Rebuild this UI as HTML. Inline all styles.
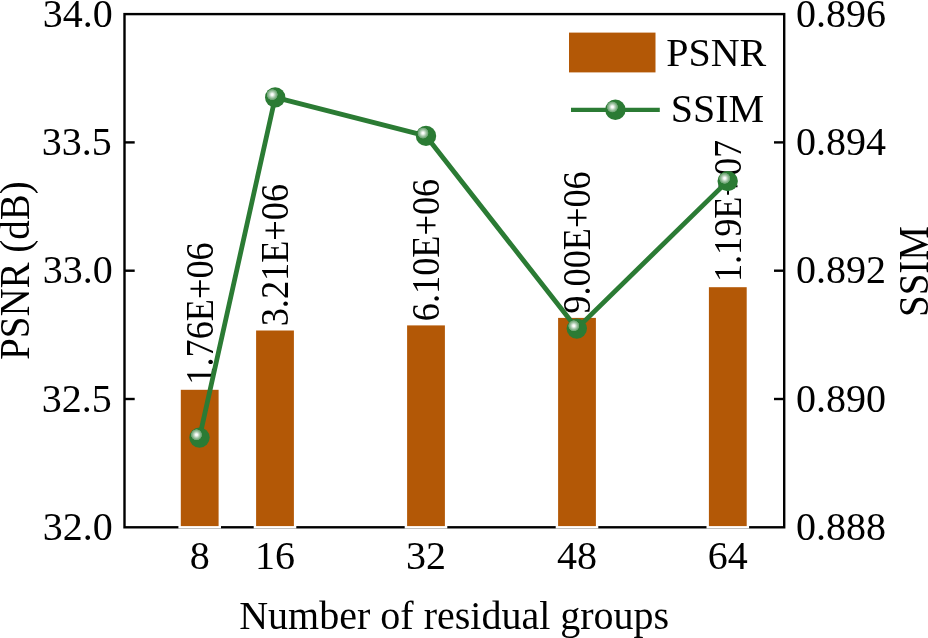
<!DOCTYPE html>
<html lang="en"><head><meta charset="utf-8"><title>PSNR and SSIM vs number of residual groups</title>
<style>html,body{margin:0;padding:0;background:#fff;}body{width:928px;height:638px;overflow:hidden;font-family:"Liberation Serif","Times New Roman",serif;}svg{display:block;}</style>
</head><body>
<svg width="928" height="638" viewBox="0 0 928 638" font-family="'Liberation Serif', 'Times New Roman', serif" font-size="40.0" fill="#000">
<defs><radialGradient id="hl" cx="0.5" cy="0.5" r="0.5"><stop offset="0" stop-color="#fff" stop-opacity="1"/><stop offset="0.18" stop-color="#fff" stop-opacity="0.97"/><stop offset="0.45" stop-color="#fff" stop-opacity="0.68"/><stop offset="0.7" stop-color="#fff" stop-opacity="0.45"/><stop offset="0.93" stop-color="#fff" stop-opacity="0.28"/><stop offset="1" stop-color="#fff" stop-opacity="0"/></radialGradient></defs>
<rect width="928" height="638" fill="#fff"/>
<rect x="124.5" y="14.1" width="659.7" height="513.1999999999999" fill="none" stroke="#000" stroke-width="2.4"/>
<line x1="124.5" y1="142.40" x2="134.7" y2="142.40" stroke="#000" stroke-width="2.4"/>
<line x1="784.2" y1="142.40" x2="774.0" y2="142.40" stroke="#000" stroke-width="2.4"/>
<line x1="124.5" y1="270.70" x2="134.7" y2="270.70" stroke="#000" stroke-width="2.4"/>
<line x1="784.2" y1="270.70" x2="774.0" y2="270.70" stroke="#000" stroke-width="2.4"/>
<line x1="124.5" y1="399.00" x2="134.7" y2="399.00" stroke="#000" stroke-width="2.4"/>
<line x1="784.2" y1="399.00" x2="774.0" y2="399.00" stroke="#000" stroke-width="2.4"/>
<rect x="179.60" y="388.60" width="40.2" height="138.70" fill="#B35806" stroke="#fff" stroke-width="2.4"/>
<rect x="254.90" y="329.30" width="40.2" height="198.00" fill="#B35806" stroke="#fff" stroke-width="2.4"/>
<rect x="405.90" y="324.20" width="40.2" height="203.10" fill="#B35806" stroke="#fff" stroke-width="2.4"/>
<rect x="556.90" y="316.70" width="40.2" height="210.60" fill="#B35806" stroke="#fff" stroke-width="2.4"/>
<rect x="707.70" y="286.00" width="40.2" height="241.30" fill="#B35806" stroke="#fff" stroke-width="2.4"/>
<text transform="translate(213.10 384.70) rotate(-90) scale(0.916 1)" font-size="39.6">1.76E+06</text>
<text transform="translate(288.40 326.30) rotate(-90) scale(0.916 1)" font-size="39.6">3.21E+06</text>
<text transform="translate(439.40 321.20) rotate(-90) scale(0.916 1)" font-size="39.6">6.10E+06</text>
<text transform="translate(590.40 313.70) rotate(-90) scale(0.916 1)" font-size="39.6">9.00E+06</text>
<text transform="translate(741.20 282.10) rotate(-90) scale(0.916 1)" font-size="39.6">1.19E+07</text>
<polyline fill="none" stroke="#2B7B34" stroke-width="4.8" stroke-linejoin="round" points="199.5,437.6 275.2,97.4 426,135.9 576.8,328.6 727.7,181.1"/>
<circle cx="199.5" cy="437.6" r="10.2" fill="#2B7B34"/>
<circle cx="196.5" cy="434.8" r="5.7" fill="url(#hl)"/>
<circle cx="275.2" cy="97.4" r="10.2" fill="#2B7B34"/>
<circle cx="272.2" cy="94.60000000000001" r="5.7" fill="url(#hl)"/>
<circle cx="426" cy="135.9" r="10.2" fill="#2B7B34"/>
<circle cx="423" cy="133.1" r="5.7" fill="url(#hl)"/>
<circle cx="576.8" cy="328.6" r="10.2" fill="#2B7B34"/>
<circle cx="573.8" cy="325.8" r="5.7" fill="url(#hl)"/>
<circle cx="727.7" cy="181.1" r="10.2" fill="#2B7B34"/>
<circle cx="724.7" cy="178.29999999999998" r="5.7" fill="url(#hl)"/>
<text x="112.7" y="26.60" text-anchor="end">34.0</text>
<text x="796.0" y="26.60">0.896</text>
<text x="111.8" y="154.90" text-anchor="end">33.5</text>
<text x="796.0" y="154.90">0.894</text>
<text x="112.7" y="283.20" text-anchor="end">33.0</text>
<text x="796.0" y="283.20">0.892</text>
<text x="111.8" y="411.50" text-anchor="end">32.5</text>
<text x="796.0" y="411.50">0.890</text>
<text x="112.7" y="539.80" text-anchor="end">32.0</text>
<text x="796.0" y="539.80">0.888</text>
<text x="199.70" y="568.8" text-anchor="middle">8</text>
<text x="275.00" y="568.8" text-anchor="middle">16</text>
<text x="426.00" y="568.8" text-anchor="middle">32</text>
<text x="577.00" y="568.8" text-anchor="middle">48</text>
<text x="727.80" y="568.8" text-anchor="middle">64</text>
<text x="454.2" y="629" text-anchor="middle">Number of residual groups</text>
<text transform="translate(29 270.6) rotate(-90) scale(0.947 1)" font-size="41.2" text-anchor="middle">PSNR (dB)</text>
<text transform="translate(927.9 271.5) rotate(-90) scale(0.947 1)" font-size="41.2" text-anchor="middle">SSIM</text>
<rect x="569" y="32.6" width="86.5" height="39.8" fill="#B35806"/>
<text x="666.2" y="66">PSNR</text>
<line x1="571" y1="109.9" x2="659.8" y2="109.9" stroke="#2B7B34" stroke-width="4.2"/>
<circle cx="615.4" cy="109.75" r="10.2" fill="#2B7B34"/>
<circle cx="612.4" cy="106.95" r="5.7" fill="url(#hl)"/>
<text x="670.7" y="122.3">SSIM</text>
</svg>
</body></html>
